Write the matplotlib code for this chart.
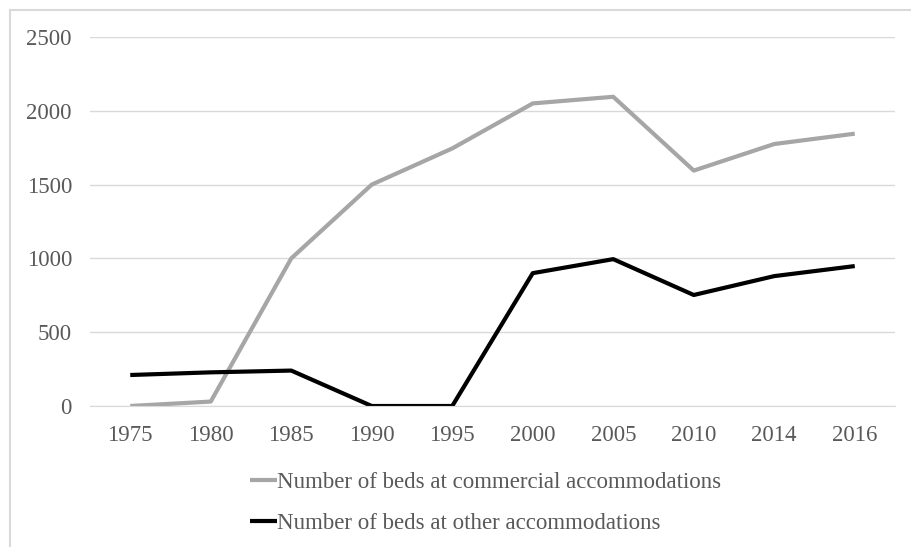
import matplotlib.pyplot as plt
from matplotlib.patches import Rectangle

# === DATA ===
years = ['1975', '1980', '1985', '1990', '1995', '2000', '2005', '2010', '2014', '2016']
commercial = [0, 30, 1000, 1500, 1745, 2050, 2095, 1595, 1775, 1845]
other = [210, 228, 240, 0, 0, 900, 995, 752, 880, 948]
label_commercial = 'Number of beds at commercial accommodations'
label_other = 'Number of beds at other accommodations'

W, H = 911, 547
plt.rcParams['font.family'] = ['Liberation Serif', 'DejaVu Serif']
text_color = '#595959'

fig = plt.figure(figsize=(W / 100, H / 100), dpi=100)
ax = fig.add_axes([90 / W, 1 - 406 / H, (895 - 90) / W, (406 - 37) / H])

x = range(len(years))
ax.plot(x, commercial, color='#a6a6a6', lw=3, solid_capstyle='butt', label=label_commercial)
ax.plot(x, other, color='#000000', lw=3, solid_capstyle='butt', label=label_other)

ax.set_xlim(-0.5, len(years) - 0.5)
ax.set_ylim(0, 2500)
ax.set_yticks(range(0, 2501, 500))
ax.set_xticks(list(x))
ax.set_xticklabels(years)
ax.grid(axis='y', color='#d9d9d9', lw=1)
ax.set_axisbelow(True)
for s in ['top', 'right', 'left']:
    ax.spines[s].set_visible(False)
ax.spines['bottom'].set_color('#d9d9d9')
ax.tick_params(length=0, labelsize=16.5, colors=text_color)
ax.tick_params(axis='x', pad=14)
ax.tick_params(axis='y', pad=13)

# === LEGEND BELOW ===
leg = fig.legend(loc='upper left', bbox_to_anchor=(239 / W, 1 - 461 / H),
                 ncol=1, frameon=False, fontsize=16.5, handlelength=1.15,
                 handletextpad=0.02, labelspacing=0.85, borderpad=0)
for t in leg.get_texts():
    t.set_color(text_color)

# === OUTER BORDER ===
fig.patches.append(Rectangle((10 / W, -0.1), 2, 1.1 - 10 / H,
                             transform=fig.transFigure, fill=False,
                             edgecolor='#d9d9d9', lw=1.5))

fig.savefig('out.png', dpi=100)
